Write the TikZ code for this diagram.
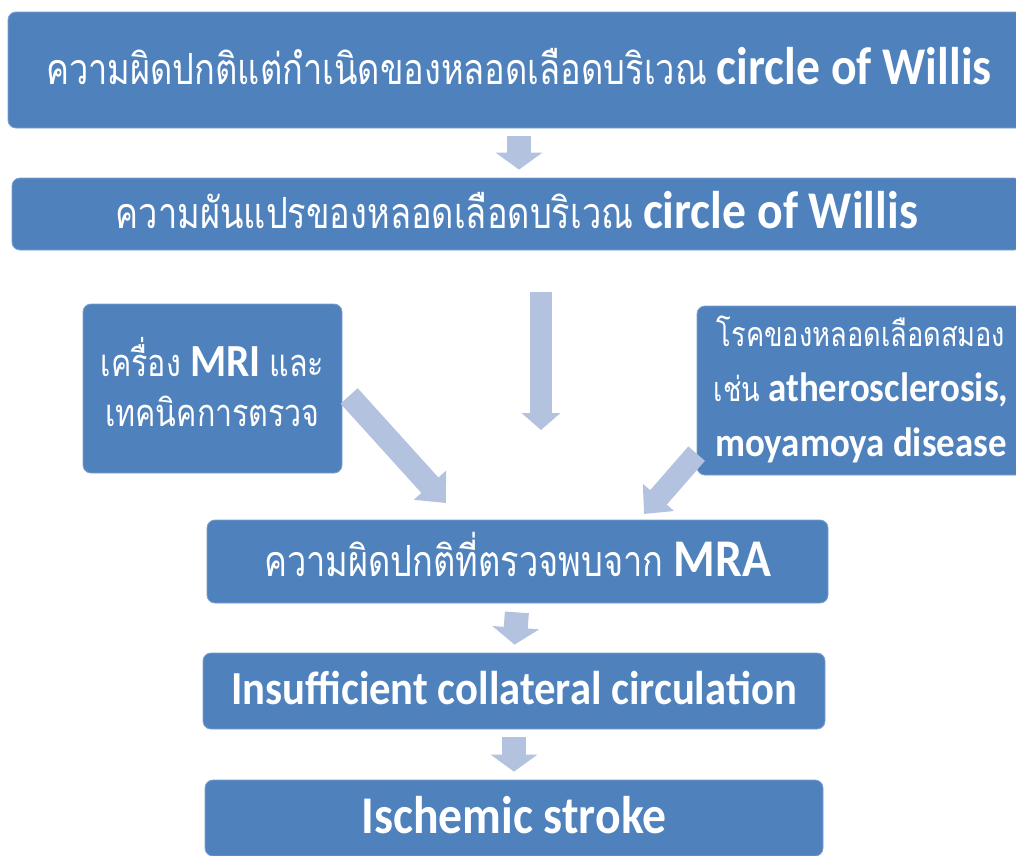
\documentclass[tikz,border=0pt]{standalone}
\usepackage{fontspec}
\setmainfont{Carlito}[FakeStretch=0.9]
\newfontfamily\thaifont[Script=Thai,FakeStretch=0.8]{Loma}
\usetikzlibrary{arrows.meta}
\definecolor{boxblue}{HTML}{4F81BD}
\definecolor{arrowblue}{HTML}{B3C2DE}
\newcommand{\thtxt}[2]{{\fontsize{#1}{#1}\thaifont\mdseries #2}}
\newcommand{\entxt}[2]{{\fontsize{#1}{#1}\selectfont\bfseries #2}}
\newcommand{\lift}[2]{\raisebox{#1}[\height][\depth]{#2}}
\tikzset{
  stepbox/.style={draw=boxblue!75!white, line width=0.8pt, fill=boxblue,
    rounded corners=8pt, text=white, inner sep=0pt, align=center,
    font=\fontsize{48}{54}\selectfont\bfseries},
  blockarrow/.style={draw=arrowblue, line width=24pt,
    -{Triangle[width=46pt,length=17pt]}}
}
\begin{document}
\begin{tikzpicture}[x=1pt,y=-1pt]
  \useasboundingbox (0,0) rectangle (1016,855);
  \clip (0,0) rectangle (1016,855);

  % boxes
  \node[stepbox, minimum width=1022pt, minimum height=116pt] (anomaly) at (519,70)
    {\lift{4pt}{\thtxt{43}{ความผิดปกติแต่กำเนิดของหลอดเลือดบริเวณ} \entxt{53}{circle of Willis}}};
  \node[stepbox, minimum width=1010pt, minimum height=72pt] (variant) at (517,214)
    {\lift{4pt}{\thtxt{43}{ความผันแปรของหลอดเลือดบริเวณ} \entxt{53}{circle of Willis}}};
  \node[stepbox, minimum width=259pt, minimum height=169pt,
    font=\fontsize{44}{50}\selectfont\bfseries] (mri) at (212.5,388.5)
    {\thtxt{38}{เครื่อง} \entxt{46}{MRI} \thtxt{38}{และ}\\
     \thtxt{38}{เทคนิคการตรวจ}\\[-36pt]};
  \node[stepbox, minimum width=328pt, minimum height=169pt,
    font=\fontsize{40}{55}\selectfont\bfseries] (disease) at (861,390.5)
    {\thtxt{34}{โรคของหลอดเลือดสมอง}\\
     \thtxt{34}{เช่น} \entxt{41}{atherosclerosis,}\\
     \entxt{41}{moyamoya disease}\\[-47pt]};
  \node[stepbox, minimum width=621pt, minimum height=83pt] (mra) at (517.5,561.5)
    {\lift{7pt}{\thtxt{43}{ความผิดปกติที่ตรวจพบจาก} \entxt{53}{MRA}}};
  \node[stepbox, minimum width=622pt, minimum height=76pt] (collateral) at (514,691)
    {\lift{3pt}{\entxt{47.4}{Insufficient collateral circulation}}};
  \node[stepbox, minimum width=618pt, minimum height=76pt] (stroke) at (514,818)
    {\lift{3pt}{\entxt{53}{Ischemic stroke}}};

  % arrows
  \coordinate (midtip) at (541,430);
  \coordinate (lefttip) at (446,503);
  \coordinate (righttip) at (644,514);
  \draw[blockarrow, shorten <=8pt, shorten >=8pt]
    (anomaly.south) -- (anomaly.south |- variant.north);
  \draw[blockarrow, line width=22pt, -{Triangle[width=38pt,length=17pt]},
    shorten <=42pt] (variant.south -| midtip) -- (midtip);
  \draw[blockarrow, line width=23pt, -{Triangle[width=42pt,length=24pt]},
    shorten <=10pt] (mri.east) -- (lefttip);
  \draw[blockarrow, line width=22pt, -{Triangle[width=40pt,length=22pt]}]
    (disease.201) -- (righttip);
  \draw[blockarrow, shorten <=9pt, shorten >=8pt] (mra.south) -- (collateral.north);
  \draw[blockarrow, shorten <=8pt, shorten >=8pt] (collateral.south) -- (stroke.north);
\end{tikzpicture}
\end{document}
